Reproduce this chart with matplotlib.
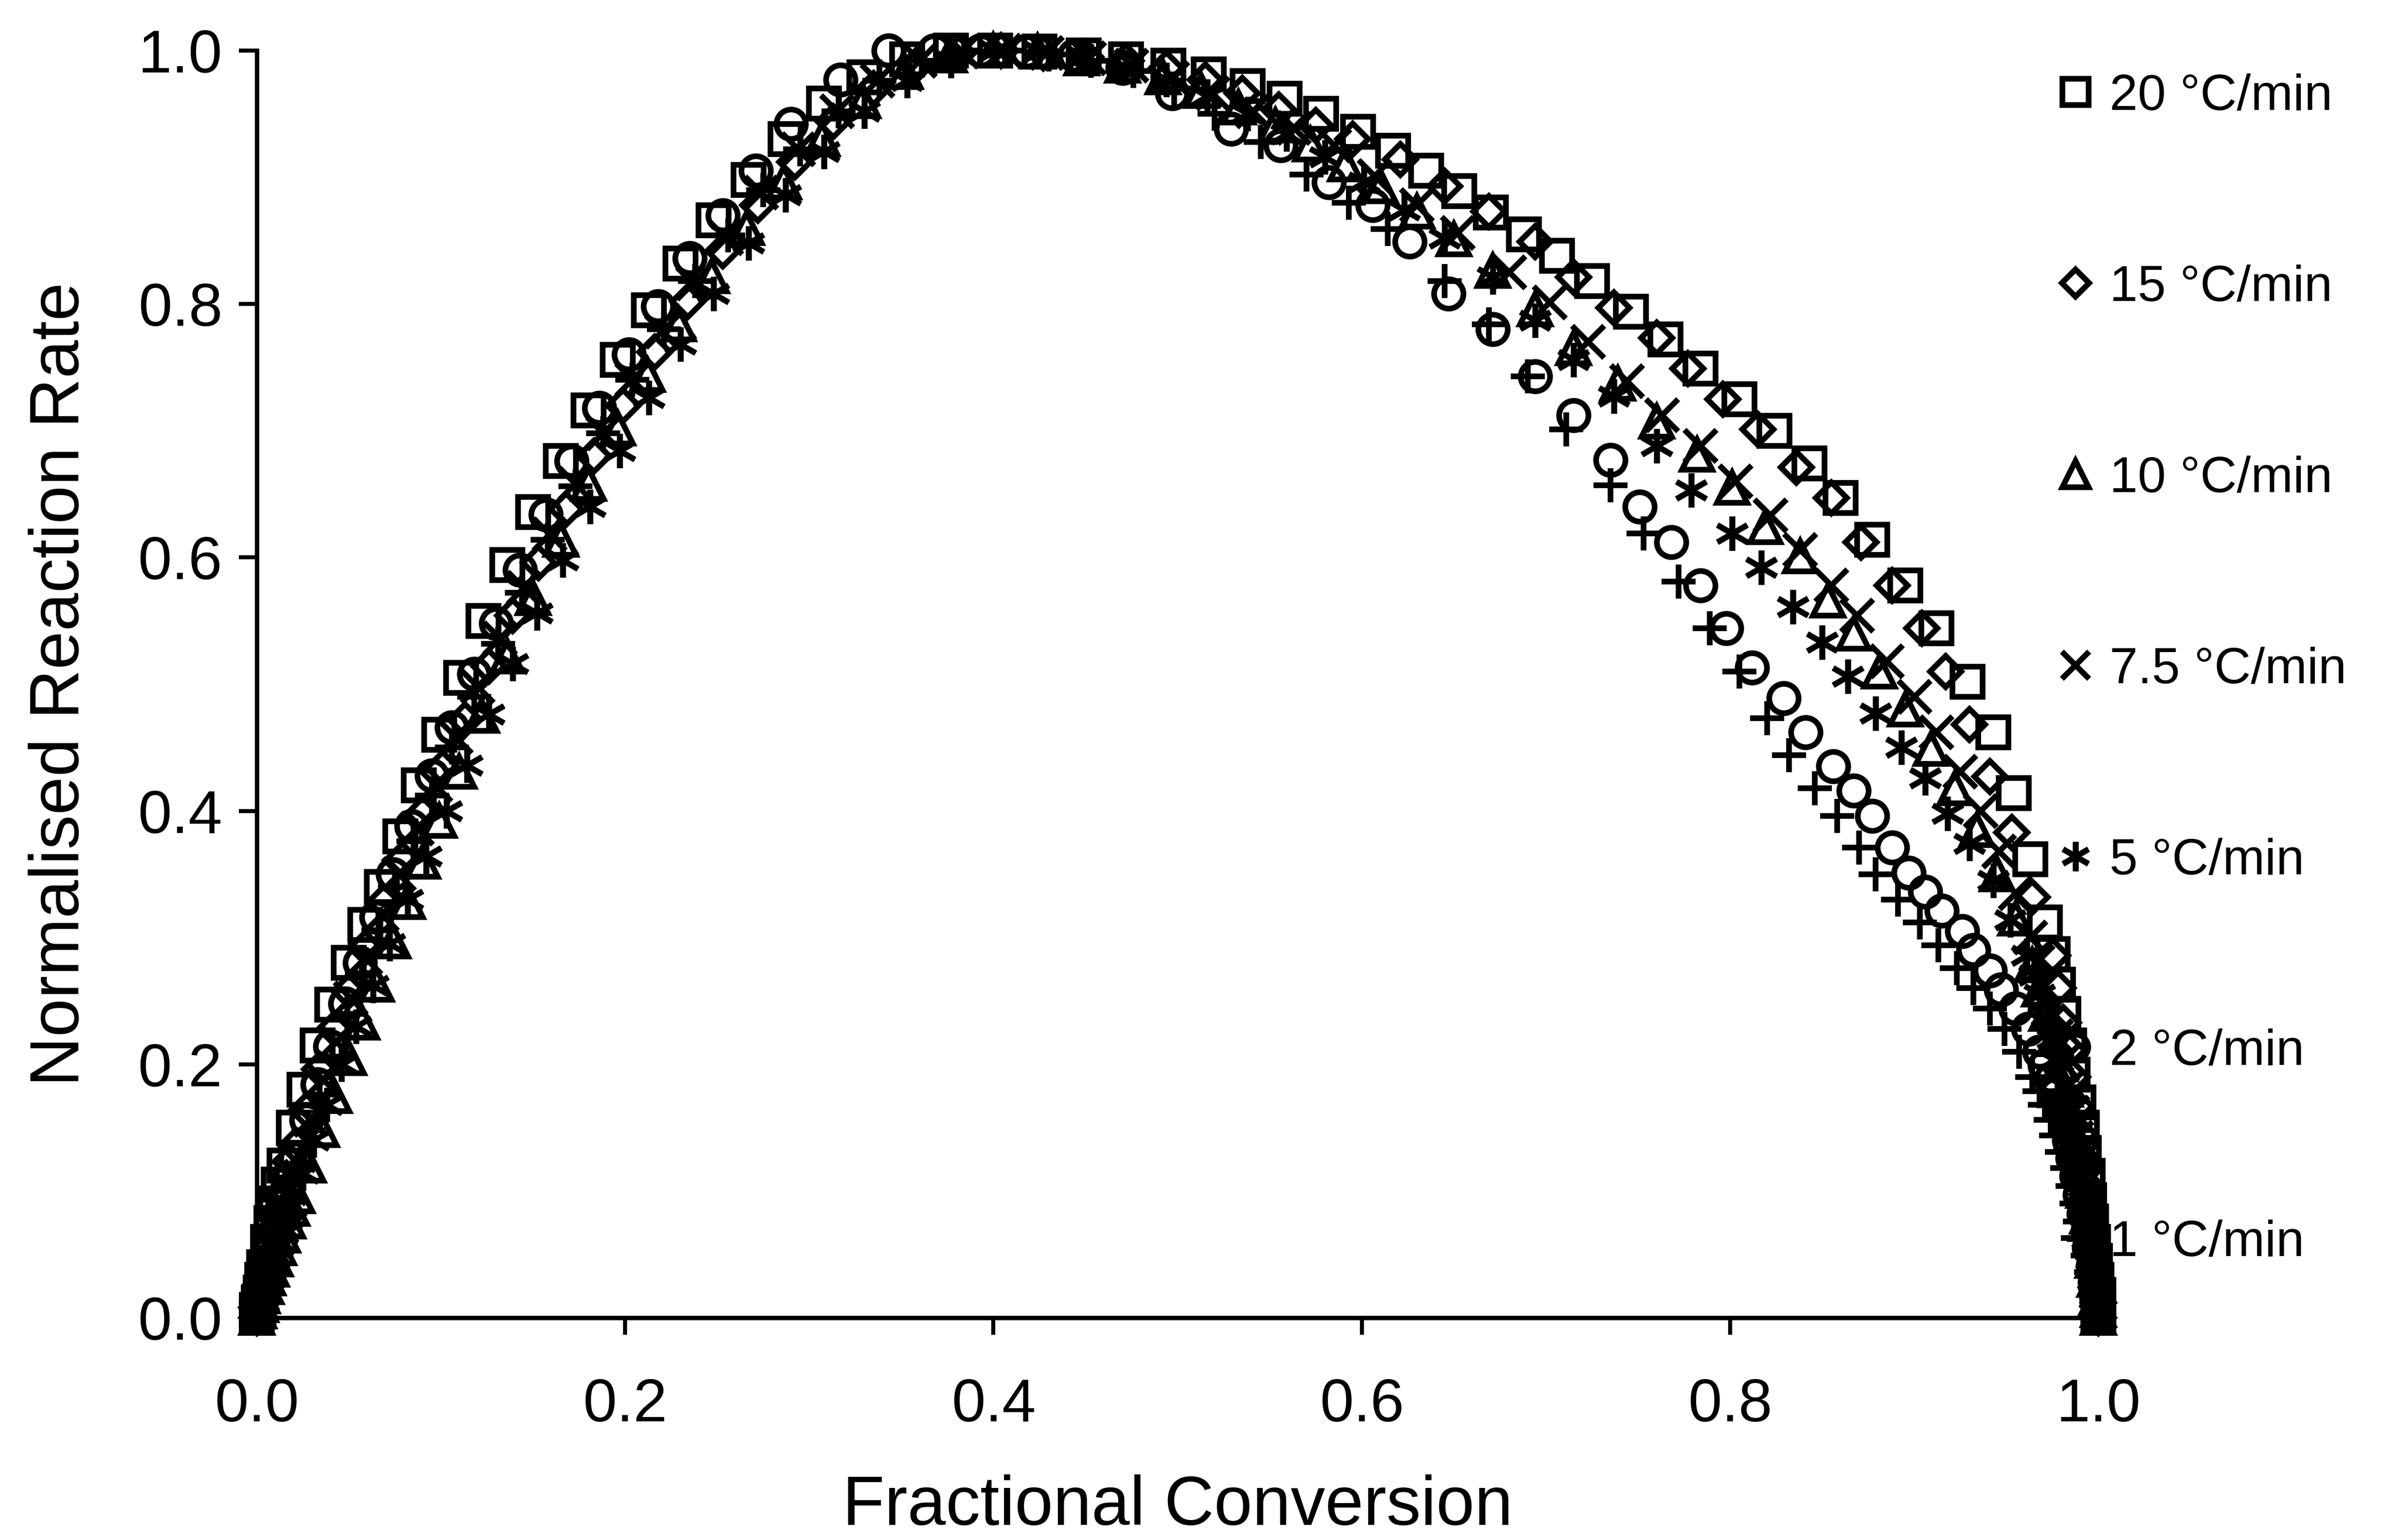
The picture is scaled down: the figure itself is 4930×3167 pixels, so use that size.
import matplotlib
matplotlib.use('Agg')
import matplotlib.pyplot as plt

plt.rcParams['font.family'] = ['Liberation Sans', 'DejaVu Sans']

# Normalised reaction rate vs fractional conversion, one series per heating rate
alpha_20 = [0.000, 0.000, 0.001, 0.002, 0.003, 0.004, 0.006, 0.008, 0.010, 0.012,
            0.015, 0.020, 0.026, 0.033, 0.041, 0.050, 0.059, 0.068, 0.078, 0.088,
            0.099, 0.111, 0.123, 0.136, 0.150, 0.165, 0.180, 0.196, 0.213, 0.230,
            0.248, 0.267, 0.287, 0.308, 0.330, 0.353, 0.377, 0.401, 0.425, 0.449,
            0.472, 0.495, 0.517, 0.538, 0.558, 0.578, 0.598, 0.617, 0.635, 0.653,
            0.670, 0.688, 0.706, 0.725, 0.746, 0.765, 0.784, 0.805, 0.824, 0.843,
            0.860, 0.877, 0.895, 0.912, 0.929, 0.943, 0.954, 0.963, 0.971, 0.975,
            0.978, 0.981, 0.984, 0.986, 0.989, 0.991, 0.992, 0.994, 0.995, 0.996,
            0.997, 0.998, 0.999, 1.000, 1.000, 1.000]
rate_20 = [0.000, 0.006, 0.012, 0.020, 0.030, 0.040, 0.060, 0.075, 0.090, 0.105,
           0.120, 0.150, 0.180, 0.215, 0.247, 0.280, 0.310, 0.340, 0.380, 0.420,
           0.460, 0.505, 0.550, 0.594, 0.636, 0.676, 0.716, 0.756, 0.795, 0.832,
           0.866, 0.898, 0.930, 0.958, 0.979, 0.993, 1.000, 1.000, 0.999, 0.996,
           0.993, 0.988, 0.981, 0.972, 0.962, 0.950, 0.936, 0.921, 0.905, 0.889,
           0.872, 0.855, 0.838, 0.818, 0.794, 0.772, 0.749, 0.725, 0.700, 0.674,
           0.647, 0.614, 0.578, 0.544, 0.502, 0.462, 0.414, 0.362, 0.312, 0.287,
           0.263, 0.240, 0.215, 0.192, 0.170, 0.150, 0.130, 0.112, 0.093, 0.076,
           0.060, 0.045, 0.030, 0.018, 0.008, 0.000]

alpha_15 = [0.000, 0.000, 0.001, 0.002, 0.004, 0.005, 0.007, 0.009, 0.011, 0.013,
            0.016, 0.018, 0.021, 0.027, 0.034, 0.042, 0.050, 0.059, 0.069, 0.079,
            0.090, 0.101, 0.113, 0.126, 0.139, 0.153, 0.168, 0.183, 0.199, 0.216,
            0.234, 0.253, 0.272, 0.292, 0.313, 0.335, 0.358, 0.381, 0.404, 0.427,
            0.450, 0.472, 0.494, 0.515, 0.535, 0.555, 0.575, 0.595, 0.621, 0.645,
            0.669, 0.694, 0.715, 0.737, 0.760, 0.777, 0.796, 0.815, 0.836, 0.855,
            0.871, 0.888, 0.904, 0.917, 0.930, 0.941, 0.953, 0.964, 0.975, 0.978,
            0.981, 0.984, 0.986, 0.988, 0.990, 0.992, 0.993, 0.995, 0.996, 0.997,
            0.998, 0.999, 1.000, 1.000]
rate_15 = [0.000, 0.008, 0.016, 0.026, 0.036, 0.046, 0.058, 0.070, 0.082, 0.096,
           0.110, 0.123, 0.136, 0.164, 0.196, 0.228, 0.258, 0.292, 0.328, 0.362,
           0.398, 0.434, 0.472, 0.514, 0.554, 0.596, 0.638, 0.680, 0.720, 0.762,
           0.802, 0.842, 0.878, 0.912, 0.944, 0.970, 0.988, 0.998, 1.000, 0.998,
           0.995, 0.992, 0.986, 0.977, 0.966, 0.953, 0.941, 0.930, 0.914, 0.893,
           0.873, 0.849, 0.821, 0.797, 0.773, 0.749, 0.725, 0.701, 0.671, 0.647,
           0.612, 0.578, 0.544, 0.510, 0.468, 0.427, 0.383, 0.332, 0.286, 0.260,
           0.233, 0.211, 0.190, 0.167, 0.145, 0.125, 0.105, 0.087, 0.070, 0.054,
           0.038, 0.024, 0.012, 0.000]

alpha_10 = [0.000, 0.001, 0.002, 0.003, 0.005, 0.006, 0.008, 0.010, 0.012, 0.014,
            0.017, 0.019, 0.022, 0.028, 0.035, 0.042, 0.050, 0.057, 0.065, 0.074,
            0.082, 0.090, 0.099, 0.110, 0.122, 0.136, 0.150, 0.165, 0.180, 0.196,
            0.212, 0.229, 0.247, 0.266, 0.286, 0.307, 0.329, 0.352, 0.376, 0.400,
            0.424, 0.448, 0.470, 0.492, 0.513, 0.533, 0.553, 0.572, 0.591, 0.610,
            0.630, 0.650, 0.671, 0.694, 0.715, 0.739, 0.760, 0.782, 0.801, 0.819,
            0.838, 0.853, 0.867, 0.881, 0.895, 0.909, 0.922, 0.934, 0.945, 0.955,
            0.964, 0.968, 0.972, 0.976, 0.979, 0.982, 0.985, 0.988, 0.990, 0.992,
            0.994, 0.996, 0.997, 0.998, 0.999, 1.000, 1.000]
rate_10 = [0.000, 0.005, 0.010, 0.017, 0.024, 0.031, 0.038, 0.046, 0.055, 0.065,
           0.076, 0.086, 0.096, 0.120, 0.148, 0.175, 0.205, 0.233, 0.263, 0.297,
           0.328, 0.360, 0.392, 0.431, 0.475, 0.522, 0.568, 0.614, 0.658, 0.702,
           0.744, 0.784, 0.822, 0.860, 0.896, 0.930, 0.960, 0.983, 0.996, 1.000,
           0.999, 0.994, 0.988, 0.979, 0.968, 0.955, 0.941, 0.926, 0.910, 0.893,
           0.873, 0.851, 0.826, 0.796, 0.765, 0.737, 0.707, 0.681, 0.655, 0.624,
           0.601, 0.566, 0.540, 0.510, 0.480, 0.449, 0.418, 0.385, 0.350, 0.315,
           0.278, 0.259, 0.240, 0.220, 0.200, 0.180, 0.160, 0.140, 0.120, 0.100,
           0.080, 0.062, 0.045, 0.030, 0.015, 0.006, 0.000]

alpha_7_5 = [0.000, 0.001, 0.002, 0.003, 0.004, 0.006, 0.007, 0.009, 0.011, 0.013,
             0.015, 0.018, 0.023, 0.029, 0.036, 0.043, 0.051, 0.059, 0.068, 0.077,
             0.087, 0.097, 0.108, 0.120, 0.132, 0.145, 0.159, 0.173, 0.188, 0.204,
             0.220, 0.237, 0.255, 0.274, 0.294, 0.315, 0.337, 0.360, 0.383, 0.406,
             0.429, 0.452, 0.475, 0.497, 0.519, 0.541, 0.563, 0.585, 0.607, 0.630,
             0.652, 0.680, 0.702, 0.723, 0.744, 0.763, 0.784, 0.803, 0.822, 0.838,
             0.855, 0.869, 0.885, 0.900, 0.912, 0.925, 0.936, 0.946, 0.955, 0.963,
             0.967, 0.970, 0.974, 0.977, 0.980, 0.983, 0.986, 0.988, 0.990, 0.992,
             0.994, 0.995, 0.997, 0.998, 0.999, 1.000, 1.000]
rate_7_5 = [0.000, 0.006, 0.012, 0.018, 0.027, 0.036, 0.045, 0.054, 0.065, 0.076,
            0.089, 0.102, 0.128, 0.156, 0.188, 0.218, 0.252, 0.284, 0.318, 0.350,
            0.386, 0.420, 0.458, 0.498, 0.536, 0.576, 0.618, 0.658, 0.698, 0.740,
            0.778, 0.816, 0.852, 0.888, 0.922, 0.952, 0.976, 0.992, 0.999, 1.000,
            0.998, 0.994, 0.988, 0.978, 0.966, 0.952, 0.939, 0.925, 0.901, 0.878,
            0.856, 0.825, 0.801, 0.770, 0.739, 0.712, 0.688, 0.660, 0.633, 0.606,
            0.578, 0.554, 0.518, 0.490, 0.462, 0.431, 0.400, 0.368, 0.335, 0.300,
            0.281, 0.262, 0.242, 0.222, 0.202, 0.182, 0.162, 0.142, 0.123, 0.104,
            0.086, 0.068, 0.051, 0.035, 0.020, 0.008, 0.000]

alpha_5 = [0.000, 0.001, 0.002, 0.003, 0.004, 0.005, 0.007, 0.008, 0.010, 0.012,
           0.014, 0.016, 0.019, 0.025, 0.031, 0.038, 0.046, 0.054, 0.063, 0.072,
           0.082, 0.092, 0.103, 0.114, 0.126, 0.139, 0.152, 0.166, 0.181, 0.197,
           0.213, 0.230, 0.248, 0.267, 0.287, 0.308, 0.330, 0.353, 0.377, 0.401,
           0.425, 0.449, 0.472, 0.494, 0.516, 0.538, 0.559, 0.580, 0.601, 0.623,
           0.645, 0.671, 0.694, 0.715, 0.737, 0.760, 0.779, 0.801, 0.817, 0.834,
           0.850, 0.864, 0.879, 0.893, 0.906, 0.918, 0.930, 0.943, 0.952, 0.961,
           0.965, 0.968, 0.972, 0.975, 0.978, 0.981, 0.984, 0.986, 0.988, 0.990,
           0.992, 0.994, 0.996, 0.997, 0.998, 0.999, 1.000, 1.000]
rate_5 = [0.000, 0.005, 0.010, 0.015, 0.020, 0.027, 0.034, 0.041, 0.048, 0.057,
          0.066, 0.077, 0.088, 0.114, 0.140, 0.168, 0.200, 0.230, 0.262, 0.295,
          0.330, 0.364, 0.400, 0.436, 0.476, 0.516, 0.556, 0.598, 0.640, 0.684,
          0.726, 0.768, 0.808, 0.848, 0.886, 0.920, 0.952, 0.976, 0.992, 1.000,
          0.999, 0.995, 0.987, 0.977, 0.964, 0.950, 0.934, 0.916, 0.896, 0.874,
          0.852, 0.821, 0.787, 0.756, 0.727, 0.688, 0.653, 0.619, 0.592, 0.561,
          0.533, 0.506, 0.477, 0.450, 0.426, 0.398, 0.374, 0.345, 0.314, 0.286,
          0.270, 0.255, 0.238, 0.220, 0.202, 0.183, 0.165, 0.146, 0.128, 0.110,
          0.092, 0.075, 0.058, 0.042, 0.028, 0.015, 0.006, 0.000]

alpha_2 = [0.000, 0.000, 0.001, 0.002, 0.003, 0.004, 0.005, 0.007, 0.008, 0.010,
           0.012, 0.014, 0.016, 0.021, 0.027, 0.033, 0.040, 0.048, 0.056, 0.065,
           0.074, 0.084, 0.095, 0.106, 0.118, 0.130, 0.143, 0.157, 0.171, 0.186,
           0.202, 0.218, 0.235, 0.253, 0.271, 0.290, 0.317, 0.343, 0.368, 0.393,
           0.418, 0.444, 0.470, 0.497, 0.529, 0.556, 0.582, 0.606, 0.626, 0.647,
           0.671, 0.694, 0.715, 0.735, 0.751, 0.768, 0.784, 0.798, 0.812, 0.829,
           0.841, 0.856, 0.867, 0.877, 0.888, 0.897, 0.906, 0.915, 0.926, 0.932,
           0.941, 0.947, 0.955, 0.962, 0.968, 0.971, 0.974, 0.977, 0.979, 0.982,
           0.984, 0.986, 0.988, 0.990, 0.992, 0.994, 0.995, 0.997, 0.998, 0.999,
           1.000, 1.000]
rate_2 = [0.000, 0.004, 0.008, 0.015, 0.022, 0.029, 0.036, 0.046, 0.055, 0.066,
          0.078, 0.089, 0.100, 0.126, 0.156, 0.184, 0.214, 0.248, 0.280, 0.316,
          0.350, 0.388, 0.428, 0.466, 0.508, 0.548, 0.590, 0.634, 0.676, 0.718,
          0.760, 0.798, 0.836, 0.870, 0.905, 0.942, 0.977, 1.000, 1.000, 1.000,
          0.999, 0.996, 0.986, 0.966, 0.938, 0.925, 0.896, 0.878, 0.849, 0.808,
          0.780, 0.743, 0.712, 0.677, 0.640, 0.612, 0.578, 0.544, 0.513, 0.489,
          0.462, 0.435, 0.416, 0.396, 0.371, 0.351, 0.336, 0.321, 0.305, 0.290,
          0.274, 0.259, 0.244, 0.228, 0.210, 0.199, 0.188, 0.177, 0.165, 0.153,
          0.140, 0.126, 0.112, 0.097, 0.082, 0.068, 0.055, 0.041, 0.028, 0.016,
          0.005, 0.000]

alpha_1 = [0.000, 0.001, 0.002, 0.003, 0.004, 0.005, 0.006, 0.008, 0.009, 0.011,
           0.013, 0.015, 0.017, 0.022, 0.028, 0.034, 0.041, 0.049, 0.057, 0.066,
           0.075, 0.085, 0.095, 0.106, 0.118, 0.131, 0.144, 0.158, 0.173, 0.188,
           0.204, 0.221, 0.238, 0.256, 0.275, 0.295, 0.316, 0.338, 0.361, 0.384,
           0.407, 0.430, 0.453, 0.476, 0.498, 0.520, 0.545, 0.570, 0.593, 0.614,
           0.645, 0.669, 0.690, 0.711, 0.735, 0.753, 0.772, 0.789, 0.805, 0.820,
           0.832, 0.846, 0.858, 0.870, 0.879, 0.891, 0.903, 0.913, 0.923, 0.932,
           0.941, 0.949, 0.957, 0.964, 0.968, 0.971, 0.974, 0.977, 0.980, 0.983,
           0.986, 0.988, 0.990, 0.992, 0.994, 0.996, 0.998, 0.999, 1.000, 1.000]
rate_1 = [0.000, 0.006, 0.012, 0.018, 0.024, 0.030, 0.036, 0.044, 0.052, 0.062,
          0.072, 0.083, 0.094, 0.120, 0.148, 0.176, 0.206, 0.240, 0.272, 0.306,
          0.340, 0.376, 0.412, 0.450, 0.490, 0.532, 0.572, 0.614, 0.656, 0.698,
          0.740, 0.780, 0.818, 0.854, 0.890, 0.922, 0.952, 0.976, 0.992, 1.000,
          1.000, 0.997, 0.992, 0.984, 0.970, 0.950, 0.928, 0.902, 0.880, 0.859,
          0.818, 0.784, 0.743, 0.701, 0.657, 0.619, 0.581, 0.544, 0.510, 0.473,
          0.444, 0.418, 0.396, 0.371, 0.350, 0.330, 0.312, 0.294, 0.276, 0.260,
          0.244, 0.228, 0.210, 0.190, 0.179, 0.168, 0.156, 0.144, 0.131, 0.118,
          0.104, 0.090, 0.076, 0.062, 0.049, 0.036, 0.024, 0.012, 0.005, 0.000]

heating_rates = ['20 °C/min', '15 °C/min', '10 °C/min', '7.5 °C/min', '5 °C/min', '2 °C/min', '1 °C/min']
conversions = [alpha_20, alpha_15, alpha_10, alpha_7_5, alpha_5, alpha_2, alpha_1]
rates = [rate_20, rate_15, rate_10, rate_7_5, rate_5, rate_2, rate_1]

markers = ['s', 'D', '^', 'x', (6, 2, 0), 'o', '+']
marker_sizes = [15, 11, 15, 16, 17, 14.5, 17]

fig = plt.figure(figsize=(4930 / 300, 3167 / 300), dpi=300)
ax = fig.add_axes([0.1071, 0.1443, 0.7680, 0.8229])

for label, a, r, m, ms in zip(heating_rates, conversions, rates, markers, marker_sizes):
    ax.plot(
        a, r,
        linestyle='none',
        marker=m,
        markersize=ms,
        markerfacecolor='none',
        markeredgecolor='black',
        markeredgewidth=2.8,
        clip_on=False,
        label=label
    )

ax.set_xlim(0, 1)
ax.set_ylim(0, 1)
ax.set_xticks([0.0, 0.2, 0.4, 0.6, 0.8, 1.0])
ax.set_yticks([0.0, 0.2, 0.4, 0.6, 0.8, 1.0])
ax.set_xticklabels(['0.0', '0.2', '0.4', '0.6', '0.8', '1.0'])
ax.set_yticklabels(['0.0', '0.2', '0.4', '0.6', '0.8', '1.0'])

for side in ('top', 'right'):
    ax.spines[side].set_visible(False)
for side in ('left', 'bottom'):
    ax.spines[side].set_linewidth(2.2)

ax.tick_params(axis='x', direction='out', length=8.5, width=2.0, pad=21, labelsize=30)
ax.tick_params(axis='y', direction='out', length=9, width=2.0, pad=8, labelsize=30)

ax.set_xlabel('Fractional Conversion', fontsize=34, labelpad=20)
ax.set_ylabel('Normalised Reaction Rate', fontsize=34, labelpad=22)

ax.legend(
    loc='upper left',
    bbox_to_anchor=(0.978, 0.982),
    frameon=False,
    fontsize=25,
    borderpad=0,
    borderaxespad=0,
    handlelength=0.7,
    handletextpad=0.32,
    labelspacing=2.84,
    markerscale=0.85
)

fig.savefig('out.png', dpi=300)
